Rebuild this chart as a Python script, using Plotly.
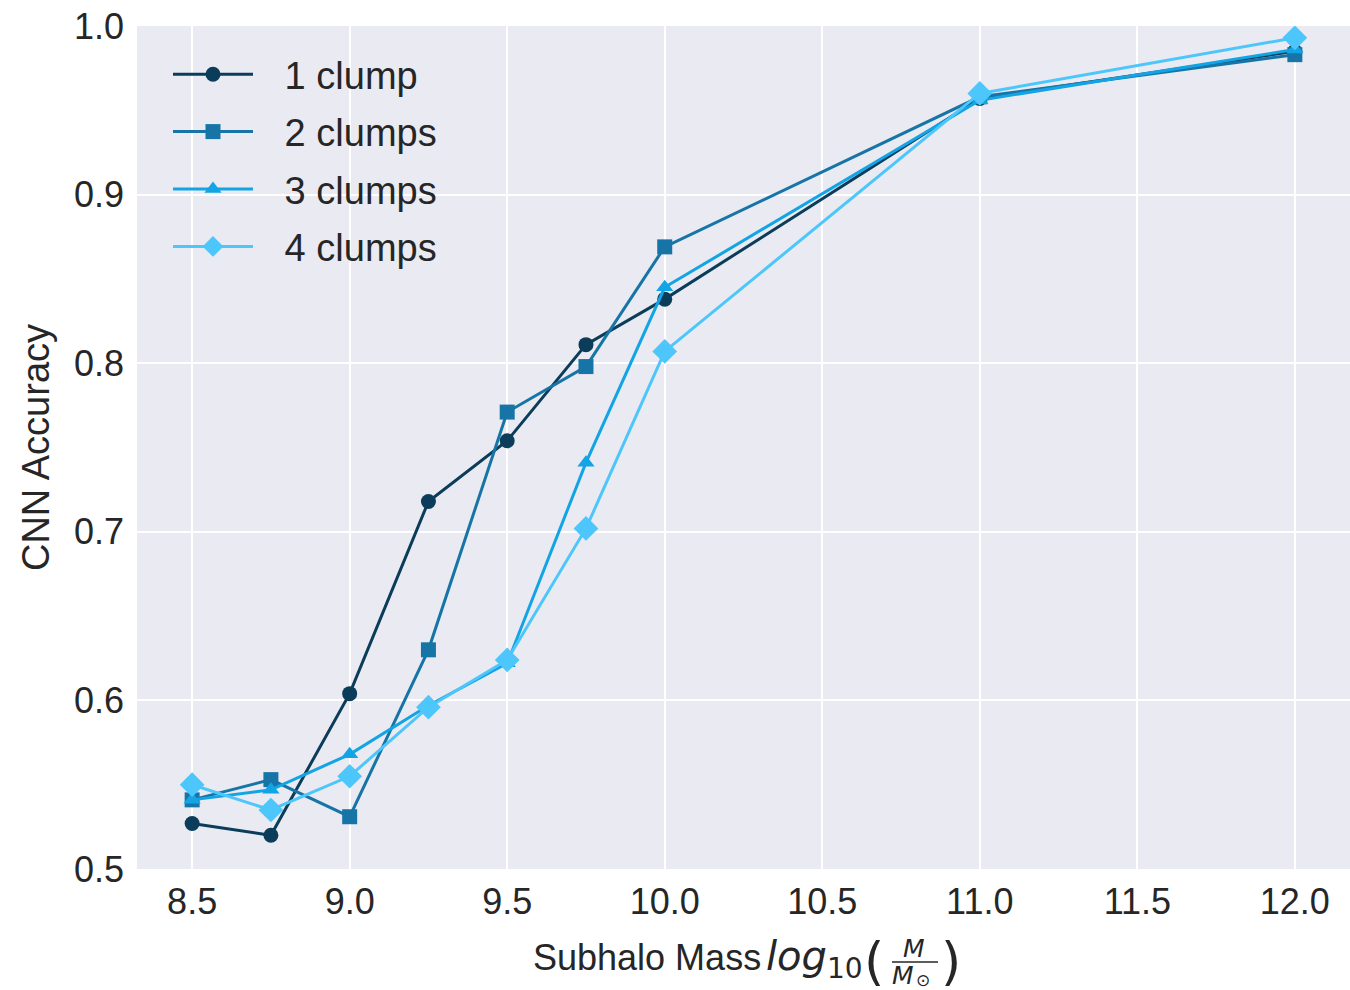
import plotly.graph_objects as go

# Subhalo mass bins (log10 M / M_sun)
mass = [8.5, 8.75, 9.0, 9.25, 9.5, 9.75, 10.0, 11.0, 12.0]

# CNN classification accuracy per number of clumps
acc_1_clump = [0.527, 0.520, 0.604, 0.718, 0.754, 0.811, 0.838, 0.957, 0.985]
acc_2_clumps = [0.541, 0.553, 0.531, 0.630, 0.771, 0.798, 0.869, 0.958, 0.983]
acc_3_clumps = [0.541, 0.547, 0.568, 0.597, 0.622, 0.741, 0.845, 0.956, 0.986]
acc_4_clumps = [0.550, 0.535, 0.555, 0.596, 0.624, 0.702, 0.807, 0.960, 0.993]

series_names = ["1 clump", "2 clumps", "3 clumps", "4 clumps"]
series_values = [acc_1_clump, acc_2_clumps, acc_3_clumps, acc_4_clumps]
series_colors = ["#0b3d5a", "#1675a6", "#12a4e4", "#4cc6fb"]
series_symbols = ["circle", "square", "triangle-up", "diamond"]
series_sizes = [15, 15, 15, 19]

x_ticks = [8.5, 9.0, 9.5, 10.0, 10.5, 11.0, 11.5, 12.0]
y_ticks = [0.5, 0.6, 0.7, 0.8, 0.9, 1.0]

FONT = "Liberation Sans, Arial, sans-serif"
MATH = "DejaVu Sans, sans-serif"
TEXT = "#262626"

W, H = 1350, 990
ML, MR, MT, MB = 137, 0, 26, 121
PW, PH = W - ML - MR, H - MT - MB


def px(x):
    return (x - ML) / PW


def py(y):
    return (H - MB - y) / PH


fig = go.Figure()
for name, vals, col, sym, sz in zip(series_names, series_values, series_colors,
                                    series_symbols, series_sizes):
    fig.add_trace(go.Scatter(
        x=mass, y=vals, name="\u2002\u2009" + name, legendgroup=name,
        mode="lines+markers",
        line=dict(color=col, width=3),
        marker=dict(color=col, symbol=sym, size=sz, line=dict(width=0)),
    ))

# x-axis label: "Subhalo Mass log10(M / M_sun)" assembled from text pieces
ann = [
    dict(text="Subhalo Mass", x=px(531), y=py(957), xanchor="left",
         font=dict(size=36, family=FONT)),
    dict(text="<i>log</i><sub>10</sub>", x=px(764), y=py(959), xanchor="left",
         font=dict(size=40, family=MATH)),
    dict(text="(", x=px(874), y=py(961), xanchor="center",
         font=dict(size=52, family=MATH)),
    dict(text="<i>M</i>", x=px(914), y=py(949), xanchor="center",
         font=dict(size=25, family=MATH)),
    dict(text="<i>M</i>", x=px(903), y=py(975), xanchor="center",
         font=dict(size=25, family=MATH)),
    dict(text="⊙", x=px(923), y=py(980), xanchor="center",
         font=dict(size=17, family=MATH)),
    dict(text=")", x=px(951), y=py(961), xanchor="center",
         font=dict(size=52, family=MATH)),
]
for a in ann:
    a.update(xref="paper", yref="paper", showarrow=False, yanchor="middle")
    a["font"].update(color=TEXT)

fig.add_shape(type="line", xref="paper", yref="paper",
              x0=px(892), x1=px(938), y0=py(962), y1=py(962),
              line=dict(color=TEXT, width=1.5))

fig.update_layout(
    width=W, height=H,
    margin=dict(l=ML, r=MR, t=MT, b=MB, pad=0),
    paper_bgcolor="white", plot_bgcolor="#eaeaf2",
    font=dict(family=FONT, color=TEXT, size=36),
    annotations=ann,
    legend=dict(x=px(168), y=py(43), xanchor="left", yanchor="top",
                bgcolor="rgba(0,0,0,0)", font=dict(size=38, family=FONT, color=TEXT),
                itemwidth=80, tracegroupgap=5, traceorder="grouped"),
    showlegend=True,
)
fig.update_xaxes(range=[8.325, 12.175], tickvals=x_ticks,
                 ticktext=[f"{v:.1f}" for v in x_ticks],
                 showgrid=True, gridcolor="white", gridwidth=2,
                 zeroline=False, showline=False, ticks="", ticklabelstandoff=8,
                 tickfont=dict(size=36))
fig.update_yaxes(range=[0.5, 1.0], tickvals=y_ticks,
                 ticktext=[f"{v:.1f}" for v in y_ticks],
                 showgrid=True, gridcolor="white", gridwidth=2,
                 zeroline=False, showline=False, ticks="", ticklabelstandoff=12,
                 tickfont=dict(size=36),
                 title=dict(text="CNN Accuracy", font=dict(size=38), standoff=12))

fig.write_html("out.html")
